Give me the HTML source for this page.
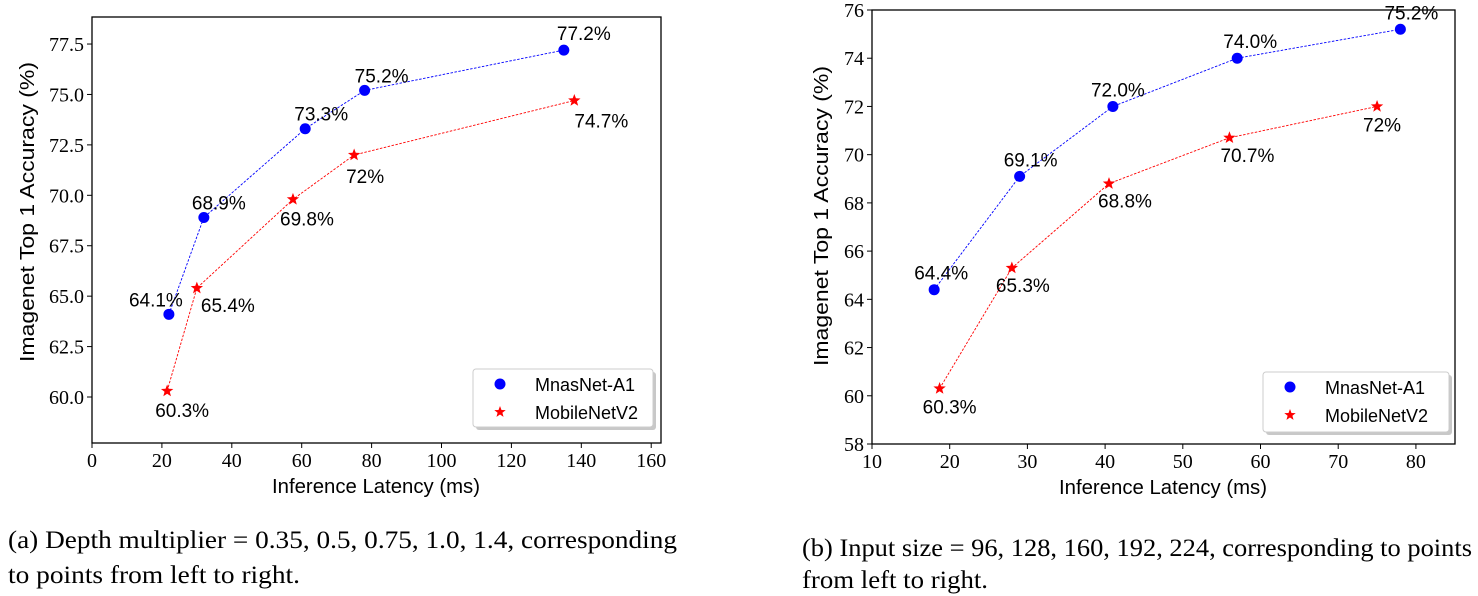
<!DOCTYPE html>
<html><head><meta charset="utf-8"><style>
html,body{margin:0;padding:0;background:#fff;}
svg{display:block;}
.tick{font-family:"Liberation Serif",serif;font-size:20px;fill:#000;}
.lab{font-family:"Liberation Sans",sans-serif;font-size:19px;fill:#000;}
.leg{font-family:"Liberation Sans",sans-serif;font-size:18px;fill:#000;}
.axt{font-family:"Liberation Sans",sans-serif;font-size:20px;fill:#000;}
.cap{font-family:"Liberation Serif",serif;font-size:25px;fill:#000;}
</style></head><body>
<svg id="root" width="1478" height="596" viewBox="0 0 1478 596" xmlns="http://www.w3.org/2000/svg">
<text class="cap" x="8" y="548" textLength="669" lengthAdjust="spacingAndGlyphs">(a) Depth multiplier = 0.35, 0.5, 0.75, 1.0, 1.4, corresponding</text>
<text class="cap" x="8" y="583" textLength="292" lengthAdjust="spacingAndGlyphs">to points from left to right.</text>
<text class="cap" x="802" y="556" textLength="670" lengthAdjust="spacingAndGlyphs">(b) Input size = 96, 128, 160, 192, 224, corresponding to points</text>
<text class="cap" x="802" y="588" textLength="186" lengthAdjust="spacingAndGlyphs">from left to right.</text>
</svg>
<script>
// Chart A data
const aMnasX=[22,32,61,78,135];
const aMnasY=[64.1,68.9,73.3,75.2,77.2];
const aMnasLbl=["64.1%","68.9%","73.3%","75.2%","77.2%"];
const aMobX=[21.5,30,57.5,75,138];
const aMobY=[60.3,65.4,69.8,72,74.7];
const aMobLbl=["60.3%","65.4%","69.8%","72%","74.7%"];
const aXTicks=[0,20,40,60,80,100,120,140,160];
const aYTicks=[60.0,62.5,65.0,67.5,70.0,72.5,75.0,77.5];
// Chart B data
const bMnasX=[18,29,41,57,78];
const bMnasY=[64.4,69.1,72.0,74.0,75.2];
const bMnasLbl=["64.4%","69.1%","72.0%","74.0%","75.2%"];
const bMobX=[18.7,28,40.5,56,75];
const bMobY=[60.3,65.3,68.8,70.7,72];
const bMobLbl=["60.3%","65.3%","68.8%","70.7%","72%"];
const bXTicks=[10,20,30,40,50,60,70,80];
const bYTicks=[58,60,62,64,66,68,70,72,74,76];

const NS="http://www.w3.org/2000/svg";
const root=document.getElementById('root');
function mk(tag,attrs,parent){const e=document.createElementNS(NS,tag);for(const k in attrs)e.setAttribute(k,attrs[k]);(parent||root).appendChild(e);return e;}
function starPath(cx,cy,r){let d="";for(let i=0;i<10;i++){const rr=i%2?r*0.42:r;const a=-Math.PI/2+i*Math.PI/5;d+=(i?"L":"M")+(cx+rr*Math.cos(a)).toFixed(2)+","+(cy+rr*Math.sin(a)).toFixed(2);}return d+"Z";}

function chart(cfg){
  const g=mk('g',{});
  
  
  const sx=v=>cfg.L+(v-cfg.x0)/(cfg.x1-cfg.x0)*(cfg.R-cfg.L);
  const sy=v=>cfg.B-(v-cfg.y0)/(cfg.y1-cfg.y0)*(cfg.B-cfg.T);
  const frame=mk('rect',{x:cfg.L,y:cfg.T,width:cfg.R-cfg.L,height:cfg.B-cfg.T,fill:'none',stroke:'#000','stroke-width':1.3},g);
  
  
  cfg.xt.forEach(t=>{
    const x=sx(t);
    mk('line',{x1:x,x2:x,y1:cfg.B,y2:cfg.B+5,stroke:'#000'},g);
    const tx=mk('text',{x:x,y:cfg.B+24,'text-anchor':'middle',class:'tick'},g);
    tx.textContent=String(t);
    
    
  });
  cfg.yt.forEach(t=>{
    const y=sy(t);
    mk('line',{x1:cfg.L-5,x2:cfg.L,y1:y,y2:y,stroke:'#000'},g);
    const tx=mk('text',{x:cfg.L-8,y:y+7,'text-anchor':'end',class:'tick'},g);
    tx.textContent=cfg.yfmt(t);
    
    
  });
  const xt=mk('text',{x:cfg.xtx,y:cfg.B+50,'text-anchor':'middle',class:'axt',textLength:208,lengthAdjust:'spacingAndGlyphs'},g);
  xt.textContent='Inference Latency (ms)';
  
  
  const yc=cfg.ytc;
  const yt=mk('text',{x:cfg.ytx,y:yc,'text-anchor':'middle',class:'axt',textLength:cfg.ytl,lengthAdjust:'spacingAndGlyphs',transform:`rotate(-90 ${cfg.ytx} ${yc})`},g);
  yt.textContent='Imagenet Top 1 Accuracy (%)';
  
  
  const ser=[{X:cfg.mx,Y:cfg.my,L:cfg.ml,c:'#0000ff',dx:cfg.mdx,dy:cfg.mdy,n:'mnasnet'},{X:cfg.bx,Y:cfg.by,L:cfg.bl,c:'#ff0000',dx:cfg.bdx,dy:cfg.bdy,n:'mobilenet'}];
  ser.forEach(s=>{
    const pts=s.X.map((x,i)=>sx(x).toFixed(2)+","+sy(s.Y[i]).toFixed(2)).join(" ");
    const pl=mk('polyline',{points:pts,fill:'none',stroke:s.c,'stroke-width':0.9,'stroke-dasharray':'2.5,1.5'},g);
    
    
    s.X.forEach((x,i)=>{
      const px=sx(x),py=sy(s.Y[i]);
      let m;
      if(s.n==='mnasnet') m=mk('circle',{cx:px,cy:py,r:5.5,fill:s.c},g);
      else m=mk('path',{d:starPath(px,py,6.5),fill:s.c},g);
      
      
      const t=mk('text',{x:px+s.dx[i],y:py+s.dy[i],'text-anchor':'middle',class:'lab'},g);
      t.textContent=s.L[i];
      
      
    });
  });
  const lx=cfg.lg[0],ly=cfg.lg[1],lw=cfg.lg[2],lh=cfg.lg[3];
  mk('rect',{x:lx+3,y:ly+3,width:lw,height:lh,rx:3,fill:'#c8c8c8'},g);
  const lr=mk('rect',{x:lx,y:ly,width:lw,height:lh,rx:3,fill:'#fff',stroke:'#ccc'},g);
  
  
  const c=mk('circle',{cx:lx+27,cy:ly+15,r:5.5,fill:'#0000ff'},g);
  
  
  const t1=mk('text',{x:lx+62,y:ly+22,class:'leg'},g);t1.textContent='MnasNet-A1';
  
  
  const st=mk('path',{d:starPath(lx+27,ly+43,6),fill:'#ff0000'},g);
  
  
  const t2=mk('text',{x:lx+62,y:ly+50,class:'leg'},g);t2.textContent='MobileNetV2';
  
  
}

chart({name:'chart-depth-multiplier',L:92,R:661,T:17,B:443,x0:0,x1:162.8,y0:57.72,y1:78.84,
  xt:aXTicks,yt:aYTicks,yfmt:t=>t.toFixed(1),ytx:34,ytc:212,ytl:300,xtx:376,
  mx:aMnasX,my:aMnasY,ml:aMnasLbl,mdx:[-13,15,16,17,20],mdy:[-8,-8,-8,-8,-10],
  bx:aMobX,by:aMobY,bl:aMobLbl,bdx:[15,31,14,11,27],bdy:[26,24,26,28,27],
  lg:[473,369,180,58]});
chart({name:'chart-input-size',L:872,R:1455,T:10,B:444,x0:10,x1:85.03,y0:58,y1:76,
  xt:bXTicks,yt:bYTicks,yfmt:t=>String(t),ytx:828,ytc:216,ytl:300,xtx:1163,
  mx:bMnasX,my:bMnasY,ml:bMnasLbl,mdx:[7,11,5,13,11],mdy:[-10,-10,-10,-10,-10],
  bx:bMobX,by:bMobY,bl:bMobLbl,bdx:[10,11,16,18,5],bdy:[25,24,24,24,25],
  lg:[1263,372,186,60]});
</script>
</body></html>
